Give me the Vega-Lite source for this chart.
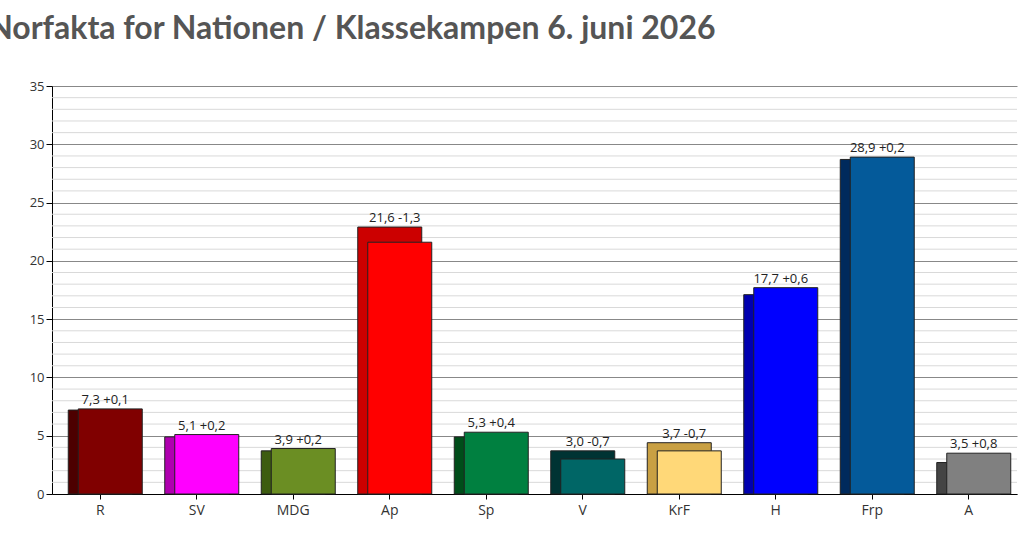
{
  "$schema": "https://vega.github.io/schema/vega-lite/v6.json",
  "width": 965,
  "height": 408,
  "autosize": "none",
  "padding": {"left": 52, "top": 86, "right": 9, "bottom": 43},
  "background": "white",
  "title": {"text": "Norfakta for Nationen / Klassekampen 6. juni 2026", "anchor": "start", "dx": -41, "offset": 34, "fontSize": 32, "font": "Lato", "fontWeight": "bold", "color": "#555555"},
  "config": {"view": {"stroke": null}, "axis": {"labelFont": "Open Sans", "labelColor": "#333", "labelFontSize": 13}},
  "datasets": {
    "parties": [
      {"parti": "R", "now": 7.3, "prev": 7.2, "label": "7,3 +0,1"},
      {"parti": "SV", "now": 5.1, "prev": 4.9, "label": "5,1 +0,2"},
      {"parti": "MDG", "now": 3.9, "prev": 3.7, "label": "3,9 +0,2"},
      {"parti": "Ap", "now": 21.6, "prev": 22.9, "label": "21,6 -1,3"},
      {"parti": "Sp", "now": 5.3, "prev": 4.9, "label": "5,3 +0,4"},
      {"parti": "V", "now": 3.0, "prev": 3.7, "label": "3,0 -0,7"},
      {"parti": "KrF", "now": 3.7, "prev": 4.4, "label": "3,7 -0,7"},
      {"parti": "H", "now": 17.7, "prev": 17.1, "label": "17,7 +0,6"},
      {"parti": "Frp", "now": 28.9, "prev": 28.7, "label": "28,9 +0,2"},
      {"parti": "A", "now": 3.5, "prev": 2.7, "label": "3,5 +0,8"}
    ],
    "grid": [{"v": 1},{"v": 2},{"v": 3},{"v": 4},{"v": 6},{"v": 7},{"v": 8},{"v": 9},{"v": 11},{"v": 12},{"v": 13},{"v": 14},{"v": 16},{"v": 17},{"v": 18},{"v": 19},{"v": 21},{"v": 22},{"v": 23},{"v": 24},{"v": 26},{"v": 27},{"v": 28},{"v": 29},{"v": 31},{"v": 32},{"v": 33},{"v": 34}]
  },
  "layer": [
    {
      "data": {"name": "grid"},
      "mark": {"type": "rule", "color": "#d9d9d9", "strokeWidth": 1},
      "encoding": {"y": {"field": "v", "type": "quantitative", "scale": {"domain": [0, 35]}, "title": null,
        "axis": {"values": [0,5,10,15,20,25,30,35], "gridColor": "#888", "domainColor": "#000", "tickColor": "#000", "tickSize": 6}}}
    },
    {
      "data": {"name": "parties"},
      "mark": {"type": "bar", "width": 64, "xOffset": 0, "stroke": "#222", "strokeWidth": 1},
      "encoding": {
        "x": {"field": "parti", "type": "nominal", "sort": null, "scale": {"paddingInner": 0, "paddingOuter": 0}, "title": null,
          "axis": {"labelAngle": 0, "domainColor": "#000", "tickColor": "#000", "labelFontSize": 14, "labelPadding": 4}},
        "y": {"field": "prev", "type": "quantitative"},
        "color": {"field": "parti", "type": "nominal", "legend": null, "scale": {
          "domain": ["R","SV","MDG","Ap","Sp","V","KrF","H","Frp","A"],
          "range": ["#4d0000","#b000b0","#3d5c10","#cc0000","#004d1a","#003333","#c9a043","#0000b0","#002a5c","#444444"]}}
      }
    },
    {
      "data": {"name": "parties"},
      "mark": {"type": "bar", "width": 64, "xOffset": 10, "stroke": "#222", "strokeWidth": 1},
      "encoding": {
        "x": {"field": "parti", "type": "nominal", "sort": null},
        "y": {"field": "now", "type": "quantitative"},
        "color": {"field": "parti", "type": "nominal", "legend": null, "scale": {
          "domain": ["R","SV","MDG","Ap","Sp","V","KrF","H","Frp","A"],
          "range": ["#800000","#ff00ff","#6b8e23","#ff0000","#008040","#006666","#ffd878","#0000ff","#045a9a","#808080"]}}
      }
    },
    {
      "data": {"name": "parties"},
      "transform": [{"calculate": "max(datum.now, datum.prev)", "as": "top"}],
      "mark": {"type": "text", "xOffset": 5, "dy": -9, "font": "Open Sans", "fontSize": 13, "color": "#222"},
      "encoding": {
        "x": {"field": "parti", "type": "nominal", "sort": null},
        "y": {"field": "top", "type": "quantitative"},
        "text": {"field": "label"}
      }
    }
  ],
  "resolve": {"scale": {"color": "independent"}}
}
